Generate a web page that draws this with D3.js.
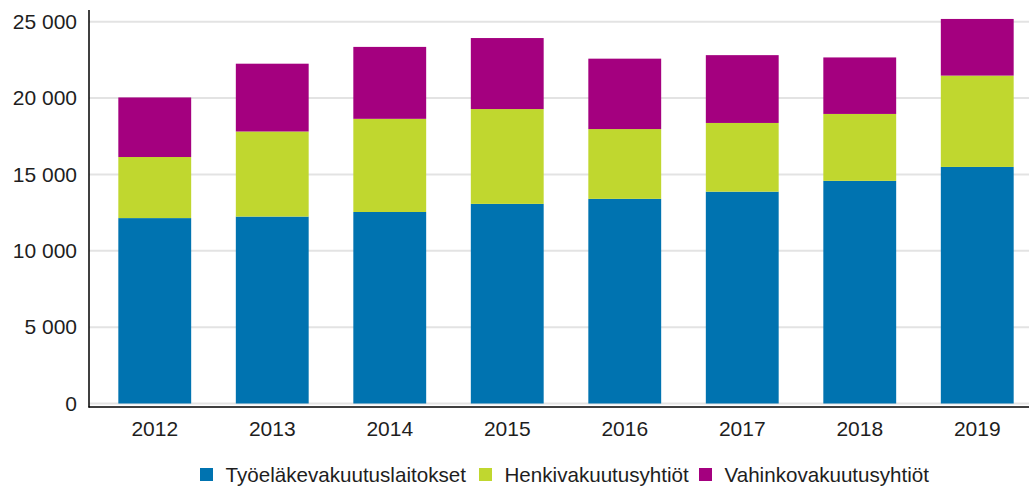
<!DOCTYPE html>
<html lang="fi">
<head>
<meta charset="utf-8">
<title>Vakuutuslaitokset</title>
<script src="https://cdn.jsdelivr.net/npm/d3@7"></script>
<style>
    body {
        margin: 0;
        background: #fff;
        font-family: "Liberation Sans", Arial, sans-serif;
    }
    .tick text, .legend text {
        fill: #1e1e1e;
    }
</style>
</head>
<body>
<div id="chart"></div>
<script>

// data
var years = ["2012", "2013", "2014", "2015", "2016", "2017", "2018", "2019"];
var seriesNames = ["Työeläkevakuutuslaitokset", "Henkivakuutusyhtiöt", "Vahinkovakuutusyhtiöt"];
var tyoelake = [12140, 12240, 12540, 13070, 13400, 13870, 14580, 15490];
var henki = [4000, 5570, 6100, 6210, 4570, 4500, 4380, 5980];
var vahinko = [3900, 4440, 4710, 4650, 4610, 4440, 3700, 3710];
var yTicks = [0, 5000, 10000, 15000, 20000, 25000];
var colors = ["#0073b0", "#c0d72f", "#a4007f"];

var width = 1029, height = 489;

var rows = years.map(function(y, i) {
    return { year: y, "Työeläkevakuutuslaitokset": tyoelake[i], "Henkivakuutusyhtiöt": henki[i], "Vahinkovakuutusyhtiöt": vahinko[i] };
});

var svg = d3.select("#chart").append("svg")
    .attr("width", width)
    .attr("height", height);

var x = d3.scaleBand()
    .domain(years)
    .range([96, 1036])
    .paddingInner(0.38)
    .paddingOuter(0.19);

var y = d3.scaleLinear()
    .domain([0, 25000])
    .range([403.5, 21.7]);

var fmt = function(d) { return d3.format(",")(d).replace(/,/g, " "); };

// grid
svg.append("g")
    .selectAll("line")
    .data(yTicks)
    .enter().append("line")
    .attr("x1", 89).attr("x2", 1029)
    .attr("y1", function(d) { return y(d); })
    .attr("y2", function(d) { return y(d); })
    .attr("stroke", "#e3e3e3")
    .attr("stroke-width", 2);

// stacked bars
var stack = d3.stack().keys(seriesNames);
var layers = svg.append("g").selectAll("g")
    .data(stack(rows))
    .enter().append("g")
    .attr("fill", function(d, i) { return colors[i]; });

layers.selectAll("rect")
    .data(function(d) { return d; })
    .enter().append("rect")
    .attr("x", function(d) { return x(d.data.year); })
    .attr("width", x.bandwidth())
    .attr("y", function(d) { return y(d[1]); })
    .attr("height", function(d) { return y(d[0]) - y(d[1]); });

// y axis
var yAxis = svg.append("g")
    .attr("transform", "translate(89,0)")
    .call(d3.axisLeft(y).tickValues(yTicks).tickFormat(fmt).tickSize(0).tickPadding(12));
yAxis.select(".domain").remove();
svg.append("line")
    .attr("x1", 89).attr("x2", 89)
    .attr("y1", 10).attr("y2", 407.5)
    .attr("stroke", "#000").attr("stroke-width", 1.5);

// x axis
var xAxis = svg.append("g")
    .attr("transform", "translate(0,407)")
    .call(d3.axisBottom(x).tickSize(0).tickPadding(14));
xAxis.select(".domain").remove();
svg.append("line")
    .attr("x1", 88.5).attr("x2", 1029)
    .attr("y1", 407).attr("y2", 407)
    .attr("stroke", "#000").attr("stroke-width", 1.5);

svg.selectAll(".tick text").attr("font-family", "'Liberation Sans', Arial, sans-serif").attr("font-size", 21);

// legend
var legendX = [200, 479, 699];
var legend = svg.append("g").attr("class", "legend")
    .selectAll("g")
    .data(seriesNames)
    .enter().append("g")
    .attr("transform", function(d, i) { return "translate(" + legendX[i] + ",468)"; });

legend.append("rect")
    .attr("width", 13).attr("height", 13)
    .attr("fill", function(d, i) { return colors[i]; });

legend.append("text")
    .attr("x", 25.5)
    .attr("y", 6.5)
    .attr("dy", "0.35em")
    .attr("font-size", 20.6)
    .text(function(d) { return d; });

</script>
</body>
</html>
